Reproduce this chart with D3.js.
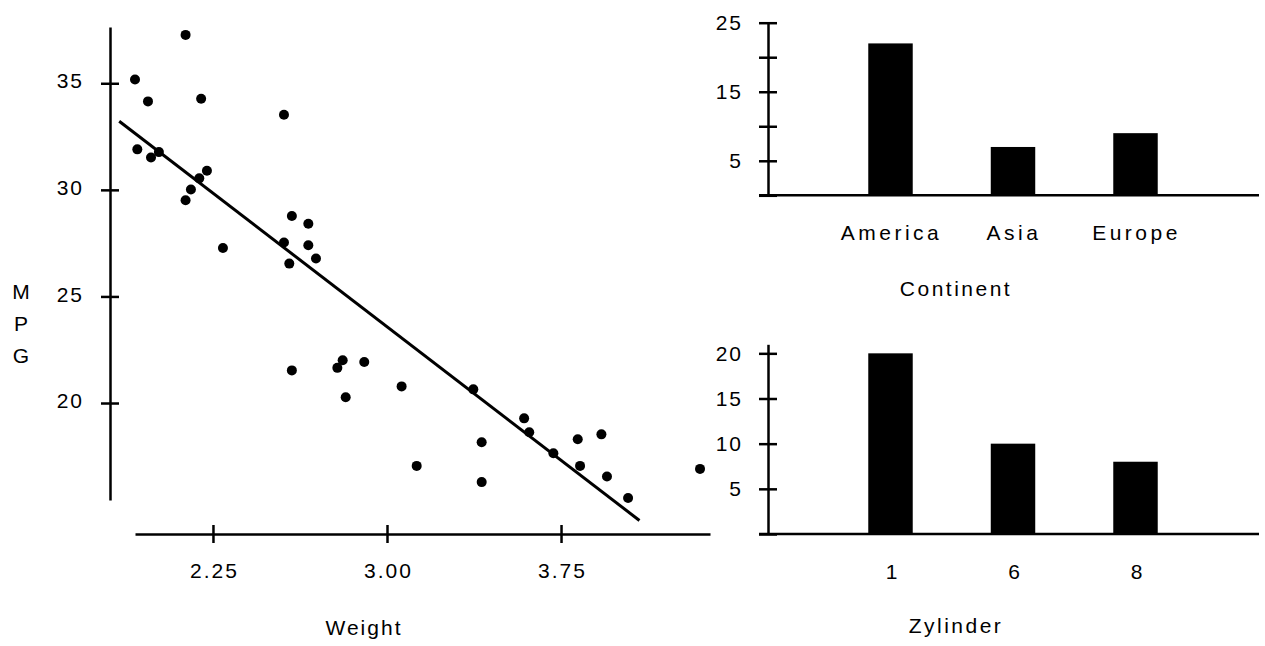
<!DOCTYPE html>
<html>
<head>
<meta charset="utf-8">
<script src="https://cdn.jsdelivr.net/npm/d3@7"></script>
<style>
  body { margin: 0; background: #fff; }
  text { font-family: "Liberation Sans", Arial, sans-serif; font-size: 21px; fill: #000; letter-spacing: 2px; }
</style>
</head>
<body>
<div id="chart"></div>
<script>
/* Scatter: weight (1000 lbs) against MPG */
const weight = [1.914, 1.970, 2.132, 2.199, 2.556, 1.924, 1.983, 2.017, 2.224, 2.191,
  2.155, 2.132, 2.293, 2.590, 2.661, 2.556, 2.661, 2.694, 2.579, 2.590,
  2.786, 2.809, 2.902, 2.822, 3.063, 3.128, 3.372, 3.408, 3.408, 3.591,
  3.613, 3.717, 3.822, 3.832, 3.924, 3.948, 4.039, 4.349]
const mpg = [35.18, 34.15, 37.27, 34.27, 33.52, 31.90, 31.52, 31.77, 30.90, 30.54,
  30.02, 29.51, 27.27, 28.77, 28.41, 27.53, 27.40, 26.78, 26.54, 21.53,
  21.65, 22.01, 21.92, 20.27, 20.78, 17.05, 20.64, 18.16, 16.29, 19.28,
  18.63, 17.64, 18.30, 17.05, 18.53, 16.55, 15.54, 16.91]
const fitWeight = [1.846, 4.088]
const fitMpg = [33.22, 14.49]
const weightTicks = [2.25, 3.00, 3.75]
const mpgTicks = [20, 25, 30, 35]

/* Counts per continent */
const continents = ['America', 'Asia', 'Europe']
const continentCounts = [22, 7, 9]
const continentTicks = [0, 5, 10, 15, 20, 25]
const continentLabels = [5, 15, 25]

/* Counts per cylinder group */
const cylinders = ['1', '6', '8']
const cylinderCounts = [20, 10, 8]
const cylinderTicks = [0, 5, 10, 15, 20]
const cylinderLabels = [5, 10, 15, 20]

const stroke = 2.5

const svg = d3.select('#chart').append('svg')
  .attr('width', 1265)
  .attr('height', 646)

/* Make the ticks cross the axis line */
function crossTicks(g, dir) {
  g.attr('font-size', null).attr('font-family', null)
  g.select('.domain').attr('stroke-width', stroke)
  g.selectAll('.tick line').attr('stroke-width', stroke)
    .attr(dir + '1', dir == 'x' ? 9 : -9)
}

/* ---- scatter ---- */
const x = d3.scaleLinear().domain([1.914, 4.392]).range([135, 710])
const y = d3.scaleLinear().domain([15.45, 37.64]).range([500, 27])

const yAxis = svg.append('g').attr('transform', 'translate(110,0)')
  .call(d3.axisLeft(y).tickValues(mpgTicks).tickSize(9).tickSizeOuter(0).tickFormat(d3.format('d')))
crossTicks(yAxis, 'x')
yAxis.selectAll('.tick text').attr('x', -26).attr('dy', '0.22em')

const xAxis = svg.append('g').attr('transform', 'translate(0,534)')
  .call(d3.axisBottom(x).tickValues(weightTicks).tickSize(9).tickSizeOuter(0).tickFormat(d3.format('.2f')))
crossTicks(xAxis, 'y')
xAxis.selectAll('.tick text').attr('y', 44).attr('dy', 0).attr('dx', 1)

svg.append('g').selectAll('circle').data(weight).enter().append('circle')
  .attr('cx', d => x(d))
  .attr('cy', (d, i) => y(mpg[i]))
  .attr('r', 5)
  .attr('fill', '#000')

svg.append('line')
  .attr('x1', x(fitWeight[0])).attr('y1', y(fitMpg[0]))
  .attr('x2', x(fitWeight[1])).attr('y2', y(fitMpg[1]))
  .attr('stroke', '#000')
  .attr('stroke-width', 3)

svg.append('text').attr('x', 364).attr('y', 635).attr('text-anchor', 'middle').text('Weight')
svg.append('g').selectAll('text').data(['M', 'P', 'G']).enter().append('text')
  .attr('x', 21).attr('y', (d, i) => 299 + i * 32)
  .attr('text-anchor', 'middle')
  .style('letter-spacing', '0px')
  .text(d => d)

/* ---- bar charts ---- */
function barChart(cats, counts, ticks, labels, domain, range, title, titleY) {
  const bx = d3.scalePoint().domain(cats).range([768, 1258]).padding(1)
  const by = d3.scaleLinear().domain(domain).range(range)
  const g = svg.append('g')

  const ax = g.append('g').attr('transform', 'translate(768,0)')
    .call(d3.axisLeft(by).tickValues(ticks).tickSize(9).tickSizeOuter(0)
      .tickFormat(d => labels.includes(d) ? d : ''))
  crossTicks(ax, 'x')
  ax.selectAll('.tick text').attr('x', -25)

  const w = bx.step() * 0.363
  g.append('g').selectAll('rect').data(cats).enter().append('rect')
    .attr('x', d => bx(d) - w / 2)
    .attr('y', (d, i) => by(counts[i]))
    .attr('width', w)
    .attr('height', (d, i) => by(0) - by(counts[i]))
    .attr('fill', '#000')

  g.append('line')
    .attr('x1', bx.range()[0] - 9).attr('x2', bx.range()[1] + 1)
    .attr('y1', by(0)).attr('y2', by(0))
    .attr('stroke', '#000')
    .attr('stroke-width', stroke)

  g.append('g').selectAll('text').data(cats).enter().append('text')
    .attr('x', d => bx(d) + 1)
    .attr('y', by(0) + 45)
    .attr('text-anchor', 'middle')
    .style('letter-spacing', cats[0].length > 1 ? '3.5px' : '0px')
    .text(d => d)

  g.append('text').attr('x', 956).attr('y', titleY)
    .attr('text-anchor', 'middle')
    .style('letter-spacing', '2.5px')
    .text(title)
}

barChart(continents, continentCounts, continentTicks, continentLabels, [0, 25], [195.3, 22.7], 'Continent', 296)
barChart(cylinders, cylinderCounts, cylinderTicks, cylinderLabels, [0, 21], [534, 344.3], 'Zylinder', 633)
</script>
</body>
</html>
